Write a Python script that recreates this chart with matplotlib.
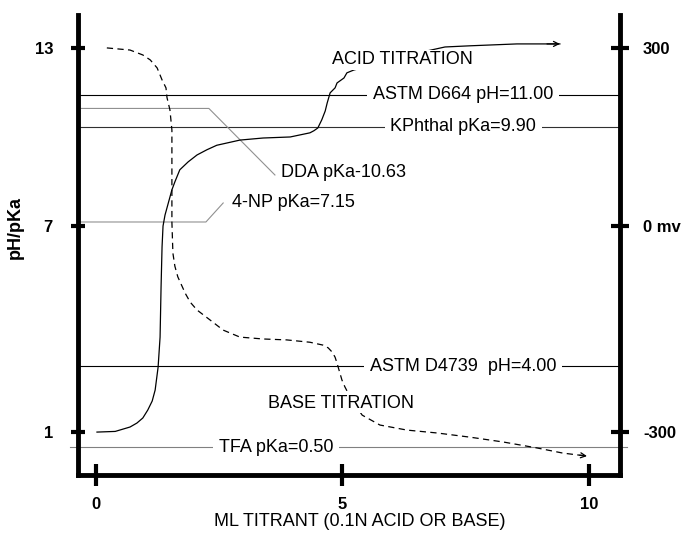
import numpy as np
import matplotlib
matplotlib.use("Agg")
import matplotlib.pyplot as plt

plt.rcParams["font.family"] = ["Liberation Sans", "DejaVu Sans"]

# acid titration curve (mL titrant, pH)
acid_ml = [0.02, 0.39, 0.69, 0.83, 0.95, 1.05, 1.14, 1.20, 1.26, 1.30, 1.32, 1.34,
           1.36, 1.40, 1.54, 1.60, 1.70, 1.87, 2.05, 2.25, 2.45, 2.92, 3.39, 3.94,
           4.34, 4.42, 4.50, 4.54, 4.58, 4.65, 4.69, 4.75, 4.85, 4.89, 5.03, 5.09,
           5.23, 5.40, 6.17, 7.08, 7.59, 8.54, 9.41]
acid_ph = [1.00, 1.03, 1.23, 1.41, 1.64, 2.00, 2.41, 2.91, 3.95, 4.62, 5.69, 6.55,
           7.00, 7.35, 8.08, 8.31, 8.66, 8.89, 9.09, 9.24, 9.37, 9.52, 9.58, 9.61,
           9.73, 9.79, 9.87, 10.02, 10.18, 10.53, 10.78, 11.09, 11.30, 11.51, 11.72, 11.94,
           12.06, 12.15, 12.62, 13.04, 13.09, 13.17, 13.17]

# base titration curve (dashed)
base_ml = [0.22, 0.69, 0.95, 1.10, 1.24, 1.34, 1.42, 1.44, 1.50, 1.54, 1.54, 1.54,
           1.54, 1.56, 1.60, 1.66, 1.81, 1.91, 2.05, 2.31, 2.58, 2.92, 3.39, 3.87,
           4.34, 4.60, 4.71, 4.79, 4.85, 4.89, 4.93, 4.99, 5.05, 5.19, 5.40, 5.76,
           6.31, 6.92, 7.59, 8.26, 8.95, 9.47, 9.96]
base_ph = [13.00, 12.91, 12.70, 12.49, 12.15, 11.64, 11.30, 10.93, 10.57, 9.81, 8.86, 7.87,
           7.15, 6.42, 6.14, 5.91, 5.56, 5.37, 5.20, 4.99, 4.77, 4.62, 4.58, 4.56,
           4.51, 4.45, 4.39, 4.30, 4.19, 4.06, 3.82, 3.36, 3.05, 2.45, 1.77, 1.32,
           1.09, 0.97, 0.83, 0.67, 0.47, 0.30, 0.20]

# reference levels drawn across the whole plot
ref_labels = ["ASTM D664 pH=11.00", "KPhthal pKa=9.90", "ASTM D4739  pH=4.00"]
ref_ph = [11.00, 9.90, 4.00]
ref_colors = ["black", "#303030", "black"]

tfa_label = "TFA pKa=0.50"
tfa_ph = 0.50
dda_label = "DDA pKa-10.63"
dda_pka = 10.63
np_label = "4-NP pKa=7.15"
np_pka = 7.15

x_ticks = [0, 5, 10]
y_ticks = [13, 7, 1]
mv_labels = ["300", "0 mv", "-300"]

# the pH axis of the original is hand-drawn and not linear: piecewise calibration
scale_ph = np.array([-1, 0.5, 1, 4, 7, 7.15, 9.9, 10.63, 11, 13, 15])
scale_pos = -np.array([492, 447, 432, 366, 226, 222, 127, 108.5, 95, 48, 1])


def fwd(v):
    return np.interp(v, scale_ph, scale_pos)


def inv(v):
    return np.interp(v, scale_pos, scale_ph)


def style_axis(a):
    a.set_yscale("function", functions=(fwd, inv))
    a.set_ylim(-0.43, 14.4)
    a.set_xlim(-0.365, 10.63)


fig = plt.figure(figsize=(6.85, 5.35), dpi=100)
ax = fig.add_axes([78 / 685, 60 / 535, 542 / 685, 460 / 535])
style_axis(ax)
ax2 = ax.twinx()
style_axis(ax2)

for sp in ["top", "right"]:
    ax.spines[sp].set_visible(False)
for sp in ["top", "left", "bottom"]:
    ax2.spines[sp].set_visible(False)
ax.spines["left"].set_linewidth(3.5)
ax.spines["bottom"].set_linewidth(3.5)
ax2.spines["right"].set_linewidth(3.5)

ax.set_xticks(x_ticks)
ax.set_xticklabels([str(t) for t in x_ticks])
ax.set_yticks(y_ticks)
ax.set_yticklabels([str(t) for t in y_ticks])
ax2.set_yticks(y_ticks)
ax2.set_yticklabels(mv_labels)
ax.minorticks_off(); ax2.minorticks_off()

ax.tick_params(axis="x", direction="inout", length=16, width=3, pad=8, labelsize=12)
ax.tick_params(axis="y", direction="inout", length=10, width=3, pad=13, labelsize=12)
ax2.tick_params(axis="y", direction="inout", length=13, width=3, pad=10, labelsize=12)
for lbl in ax.get_xticklabels() + ax.get_yticklabels() + ax2.get_yticklabels():
    lbl.set_fontweight("bold")

ax.set_xlabel("ML TITRANT (0.1N ACID OR BASE)", fontsize=13)
ax.xaxis.set_label_coords(0.52, -0.083)
ax.set_ylabel("pH/pKa", fontsize=13, fontweight="bold")
ax.yaxis.set_label_coords(-0.10, 0.537)

box = dict(facecolor="white", edgecolor="none", pad=4)
fs = 13

# reference lines with their labels sitting on them
for name, val, col in zip(ref_labels, ref_ph, ref_colors):
    ax.axhline(val, color=col, lw=0.8, zorder=1)
    ax.text(7.45, val, name, ha="center", va="center", fontsize=fs, bbox=box, zorder=4)

ax.axhline(tfa_ph, xmin=-0.015, xmax=1.013, color="#808080", lw=0.8, clip_on=False, zorder=1)
ax.text(3.65, tfa_ph, tfa_label, ha="center", va="center", fontsize=fs, bbox=box, zorder=4)

# DDA and 4-NP leaders
ax.plot([-0.3, 2.29, 3.63], [dda_pka, dda_pka, 8.51], color="#909090", lw=0.8, zorder=1)
ax.text(3.75, 8.57, dda_label, ha="left", va="center", fontsize=fs)
ax.plot([-0.365, 2.23, 2.58], [np_pka, np_pka, 7.70], color="#909090", lw=0.8, zorder=1)
ax.text(2.76, 7.70, np_label, ha="left", va="center", fontsize=fs)

# titration curves
ax.plot(acid_ml, acid_ph, color="black", lw=0.9, zorder=2)
ax.plot(base_ml, base_ph, color="black", lw=0.9, ls=(0, (5, 3.5)), zorder=2)
for xs, ys in [(acid_ml, acid_ph), (base_ml, base_ph)]:
    x0 = xs[-1] - 0.3 * (xs[-1] - xs[-2])
    y0 = ys[-1] - 0.3 * (ys[-1] - ys[-2])
    ax.annotate("", xy=(xs[-1], ys[-1]), xytext=(x0, y0),
                arrowprops=dict(arrowstyle="->", lw=0.9, color="black",
                                shrinkA=0, shrinkB=0, mutation_scale=9))

ax.text(6.21, 12.49, "ACID TITRATION", ha="center", va="center", fontsize=fs,
        bbox=dict(facecolor="white", edgecolor="none", pad=1), zorder=4)
ax.text(4.98, 2.32, "BASE TITRATION", ha="center", va="center", fontsize=fs,
        bbox=dict(facecolor="white", edgecolor="none", pad=1), zorder=4)

fig.savefig("out.png", dpi=100)
plt.close(fig)
